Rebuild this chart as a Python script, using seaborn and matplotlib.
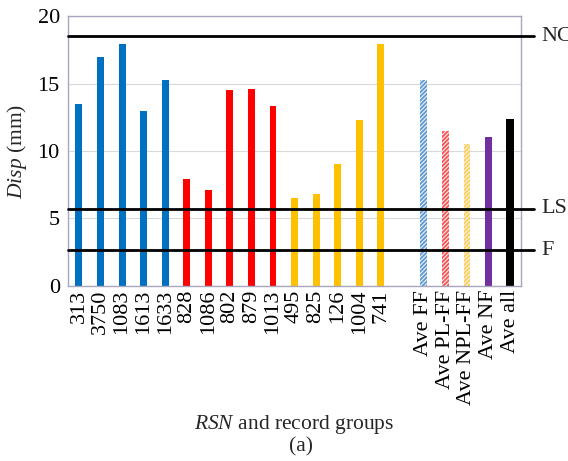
#!/usr/bin/env python3

import matplotlib
matplotlib.use('Agg')
import matplotlib.pyplot as plt
import pandas as pd
import seaborn as sns

# record numbers and the group averages, with one empty slot between them
labels = ['313', '3750', '1083', '1613', '1633',
          '828', '1086', '802', '879', '1013',
          '495', '825', '126', '1004', '741',
          'Ave FF', 'Ave PL-FF', 'Ave NPL-FF', 'Ave NF', 'Ave all']
disp = [13.5, 17.0, 17.9, 13.0, 15.3,
        7.9, 7.1, 14.5, 14.6, 13.3,
        6.5, 6.8, 9.0, 12.3, 17.9,
        15.3, 11.5, 10.5, 11.0, 12.4]
colors = ['#0070C0'] * 5 + ['#FF0000'] * 5 + ['#FFC000'] * 5 + \
    ['#5B9BD5', '#FF5050', '#FFD050', '#7030A0', '#000000']
hatched = {'Ave FF', 'Ave PL-FF', 'Ave NPL-FF'}

# performance levels
levels = {'NC': 18.5, 'LS': 5.7, 'F': 2.65}

order = labels[:15] + [''] + labels[15:]

sns.set_style('white')
plt.rcParams['font.family'] = ['Liberation Serif', 'DejaVu Serif']
plt.rcParams['mathtext.fontset'] = 'custom'
plt.rcParams['mathtext.rm'] = 'Liberation Serif'
plt.rcParams['mathtext.it'] = 'Liberation Serif:italic'
plt.rcParams['hatch.linewidth'] = 1.3

df = pd.DataFrame({'rsn': labels, 'disp': disp})

fig = plt.figure(figsize=(5.68, 4.61), dpi=100)
ax = fig.add_axes([0.12, 0.38, 0.797, 0.585])

sns.barplot(data=df, x='rsn', y='disp', hue='rsn', order=order,
            palette=dict(zip(labels, colors)), legend=False,
            width=0.32, saturation=1, ax=ax)

for p in ax.patches:
    idx = int(round(p.get_x() + p.get_width() / 2))
    name = order[idx]
    p.set_linewidth(0)
    if name in hatched:
        c = colors[labels.index(name)]
        p.set_facecolor('#F0F0F0')
        p.set_edgecolor(c)
        p.set_hatch('////////')
    if name == 'Ave all':
        p.set_x(idx - 0.18)
        p.set_width(0.36)

ax.set_xlim(-0.5, 20.5)
ax.set_ylim(0, 20)
ax.set_yticks([0, 5, 10, 15, 20])
ax.yaxis.grid(True, color='#D9D9D9', linewidth=0.8)
ax.set_axisbelow(True)
ax.tick_params(axis='both', length=0, labelsize=16, colors='black')
ax.tick_params(axis='x', rotation=90, pad=3)
ax.tick_params(axis='y', pad=6)
for s in ax.spines.values():
    s.set_color('#A6A6C0')
    s.set_linewidth(1.0)

for name, val in levels.items():
    ax.axhline(val, xmin=0, xmax=1.028, color='black', linewidth=2,
               clip_on=False, zorder=5)
    ax.text(1.045, val, name, transform=ax.get_yaxis_transform(),
            va='center', ha='left', fontsize=16)

ax.set_ylabel(r'$\mathit{Disp}$ (mm)', fontsize=15.5, labelpad=6)
ax.set_xlabel(r'$\mathit{RSN}$ and record groups', fontsize=15.5, labelpad=6)
fig.text(0.53, 0.03, '(a)', ha='center', va='center', fontsize=15.5)

fig.savefig('out.png', dpi=100)
